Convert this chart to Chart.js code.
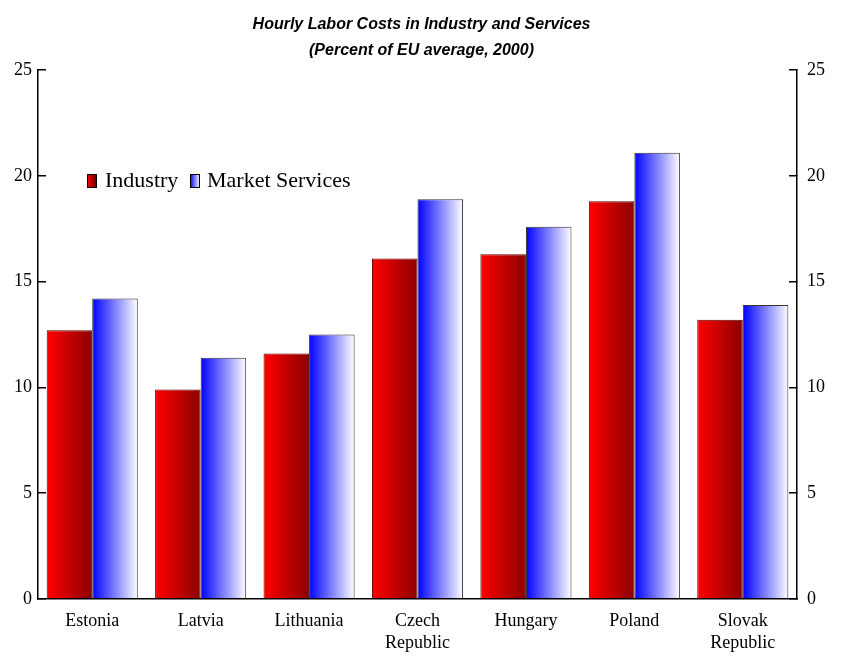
<!DOCTYPE html>
<html>
<head>
<meta charset="utf-8">
<script src="https://cdn.jsdelivr.net/npm/chart.js@4/dist/chart.umd.min.js"></script>
<style>
  body { margin: 0; background: #fff; }
  #wrap { width: 843px; height: 671px; }
</style>
</head>
<body>
<div id="wrap"><canvas id="c"></canvas></div>
<script>
const categories = [['Estonia'], ['Latvia'], ['Lithuania'], ['Czech', 'Republic'], ['Hungary'], ['Poland'], ['Slovak', 'Republic']];
const industry = [12.7, 9.9, 11.6, 16.1, 16.3, 18.8, 13.2];
const services = [14.2, 11.4, 12.5, 18.9, 17.6, 21.1, 13.9];
const yTicks = [0, 5, 10, 15, 20, 25];
const catPct = 0.84;

// horizontal gradient across a bar, position taken from the x scale
function barGradient(ctx, side, c0, c1) {
  const chart = ctx.chart;
  const xs = chart.scales.x;
  if (!xs || !chart.chartArea) return c0;
  const cw = xs.width / categories.length;
  const bw = cw * catPct / 2;
  const center = xs.getPixelForValue(ctx.dataIndex);
  const x0 = side === 0 ? center - bw : center;
  const g = chart.ctx.createLinearGradient(x0, 0, x0 + bw, 0);
  g.addColorStop(0, c0);
  g.addColorStop(1, c1);
  return g;
}

// legend drawn inside the plot area
const innerLegend = {
  id: 'innerLegend',
  afterDraw(chart) {
    const c = chart.ctx;
    c.save();
    c.font = '22px "Liberation Serif"';
    c.textBaseline = 'middle';
    const y = 181;
    let g = c.createLinearGradient(87, 0, 97, 0);
    g.addColorStop(0, '#ff0000'); g.addColorStop(1, '#600000');
    c.fillStyle = g; c.fillRect(87, y - 7, 10, 14);
    c.strokeStyle = '#000'; c.lineWidth = 1; c.strokeRect(87.5, y - 6.5, 9, 13);
    c.fillStyle = '#000'; c.fillText('Industry', 105, y);
    g = c.createLinearGradient(190, 0, 200, 0);
    g.addColorStop(0, '#0000ff'); g.addColorStop(1, '#ffffff');
    c.fillStyle = g; c.fillRect(190, y - 7, 10, 14);
    c.strokeRect(190.5, y - 6.5, 9, 13);
    c.fillStyle = '#000'; c.fillText('Market Services', 207, y);
    c.restore();
  }
};

new Chart(document.getElementById('c'), {
  type: 'bar',
  data: {
    labels: categories,
    datasets: [
      { label: 'Industry', data: industry, backgroundColor: ctx => barGradient(ctx, 0, '#ff0000', '#8b0000'), borderColor: '#600000', borderWidth: 1 },
      { label: 'Market Services', data: services, backgroundColor: ctx => barGradient(ctx, 1, '#0000ff', '#ffffff'), borderColor: '#333', borderWidth: 1 }
    ]
  },
  options: {
    responsive: true,
    maintainAspectRatio: false,
    animation: false,
    categoryPercentage: catPct,
    barPercentage: 1,
    layout: { padding: { left: 0, right: 0, top: 0, bottom: 5 } },
    plugins: {
      legend: { display: false },
      tooltip: { enabled: false },
      title: {
        display: true,
        text: ['Hourly Labor Costs in Industry and Services', '(Percent of EU average, 2000)'],
        font: { family: 'Liberation Sans', size: 16, style: 'italic', weight: 'bold', lineHeight: 1.6 },
        color: '#000',
        padding: { top: 12, bottom: 7 }
      }
    },
    scales: {
      x: {
        grid: { display: false, drawTicks: false },
        border: { color: '#000', width: 1.5 },
        ticks: { color: '#000', font: { family: 'Liberation Serif', size: 18 }, padding: 12, maxRotation: 0, autoSkip: false }
      },
      y: {
        min: 0, max: 25,
        afterBuildTicks: s => { s.ticks = yTicks.map(v => ({ value: v })); },
        grid: { display: true, drawOnChartArea: false, tickLength: -8, color: '#000', lineWidth: 1.5 },
        border: { color: '#000', width: 1.5 },
        ticks: { color: '#000', font: { family: 'Liberation Serif', size: 18 }, padding: 14 }
      },
      y2: {
        position: 'right',
        min: 0, max: 25,
        afterBuildTicks: s => { s.ticks = yTicks.map(v => ({ value: v })); },
        grid: { display: true, drawOnChartArea: false, tickLength: -8, color: '#000', lineWidth: 1.5 },
        border: { color: '#000', width: 1.5 },
        ticks: { color: '#000', font: { family: 'Liberation Serif', size: 18 }, padding: 18 }
      }
    }
  },
  plugins: [innerLegend]
});
</script>
</body>
</html>
